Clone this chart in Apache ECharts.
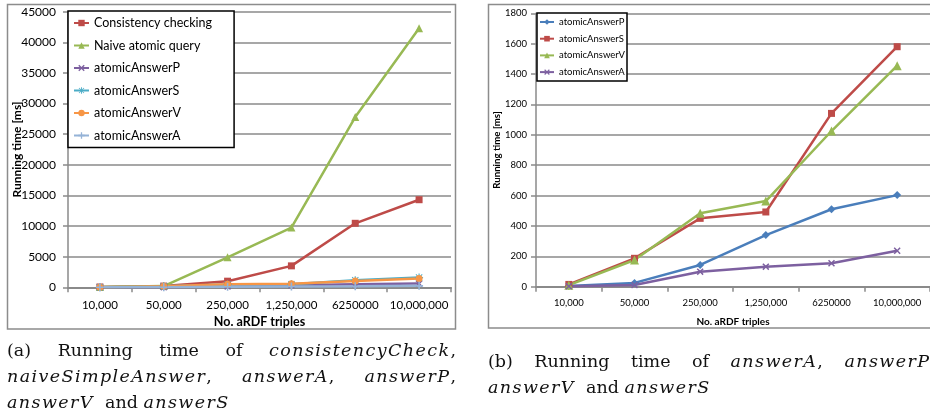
<!DOCTYPE html>
<html>
<head>
<meta charset="utf-8">
<script src="https://cdn.jsdelivr.net/npm/echarts@6/dist/echarts.min.js"></script>
<style>
html,body{margin:0;padding:0;background:#fff;}
#wrap{position:relative;width:930px;height:416px;overflow:hidden;}
#chart{position:absolute;left:0;top:0;width:930px;height:416px;}
.cap{position:absolute;font-family:"DejaVu Serif",serif;font-size:17.5px;line-height:26px;color:#111;white-space:nowrap;}
.jl{display:flex;justify-content:space-between;}
.cap i{letter-spacing:1.4px;}
</style>
</head>
<body>
<div id="wrap">
<div id="chart"></div>
<div class="cap" style="left:7px;top:337px;width:449px;">
  <div class="jl"><span>(a)</span><span>Running</span><span>time</span><span>of</span><span><i>consistencyCheck</i>,</span></div>
  <div class="jl"><span><i>naiveSimpleAnswer</i>,</span><span><i>answerA</i>,</span><span><i>answerP</i>,</span></div>
  <div><i>answerV</i>&nbsp; and <i>answerS</i></div>
</div>
<div class="cap" style="left:488px;top:348px;width:448px;">
  <div class="jl"><span>(b)</span><span>Running</span><span>time</span><span>of</span><span><i>answerA</i>,</span><span><i>answerP</i>,</span></div>
  <div><i>answerV</i>&nbsp; and <i>answerS</i></div>
</div>
</div>
<script>
// ---- data ----
var categories = ['10,000', '50,000', '250,000', '1,250,000', '6250000', '10,000,000'];
var consistencyChecking = [50, 200, 1000, 3500, 10450, 14300];
var naiveAtomicQuery = [50, 200, 4900, 9750, 27800, 42300];
var atomicAnswerP = [5, 25, 143, 340, 510, 603];
var atomicAnswerS = [15, 187, 450, 492, 1141, 1580];
var atomicAnswerV = [10, 176, 483, 564, 1025, 1455];
var atomicAnswerA = [3, 11, 99, 132, 154, 237];
var yTicksA = [0, 5000, 10000, 15000, 20000, 25000, 30000, 35000, 40000, 45000];
var yTicksB = [0, 200, 400, 600, 800, 1000, 1200, 1400, 1600, 1800];

var FONT = 'Lato';
var GRID_C = '#8a8a8a';
var SYM_X = 'path://M0,1.5L1.5,0L5,3.5L8.5,0L10,1.5L6.5,5L10,8.5L8.5,10L5,6.5L1.5,10L0,8.5L3.5,5Z';
var SYM_PLUS = 'path://M4,0H6V4H10V6H6V10H4V6H0V4H4Z';
var SYM_AST = 'path://M4.3,0H5.7V3.3L8.5,0.6L9.4,1.5L6.3,4.3H10V5.7H6.3L9.4,8.5L8.5,9.4L5.7,6.7V10H4.3V6.7L1.5,9.4L0.6,8.5L3.7,5.7H0V4.3H3.7L0.6,1.5L1.5,0.6L4.3,3.3Z';

function mkSeries(name, data, color, symbol, size, xi, lw) {
  return {
    type: 'line', name: name, data: data, xAxisIndex: xi, yAxisIndex: xi,
    symbol: symbol, symbolSize: size, showAllSymbol: true,
    lineStyle: {color: color, width: lw},
    itemStyle: {color: color},
    z: 3
  };
}

function yAxis(gi, ticks, fs, margin, nameFs, nameGap) {
  return {
    gridIndex: gi, type: 'value', min: ticks[0], max: ticks[ticks.length - 1], interval: ticks[1] - ticks[0],
    name: 'Running time [ms]', nameLocation: 'middle', nameGap: nameGap, nameMoveOverlap: false,
    nameTextStyle: {fontFamily: FONT, fontWeight: 'bold', fontSize: nameFs, color: '#000'},
    axisLine: {show: true, lineStyle: {color: GRID_C, width: 1.5}},
    axisTick: {show: true, length: 5, lineStyle: {color: GRID_C, width: 1.5}},
    axisLabel: {fontFamily: FONT, fontSize: fs, color: '#000', margin: margin, formatter: function (v) { return String(v); }},
    splitLine: {show: true, lineStyle: {color: GRID_C, width: 1.5}}
  };
}
function xAxis(gi, fs, margin, nameFs, nameGap) {
  return {
    gridIndex: gi, type: 'category', data: categories, boundaryGap: true,
    name: 'No. aRDF triples', nameLocation: 'middle', nameGap: nameGap, nameMoveOverlap: false,
    nameTextStyle: {fontFamily: FONT, fontWeight: 'bold', fontSize: nameFs, color: '#000'},
    axisLine: {show: true, lineStyle: {color: GRID_C, width: 2}},
    axisTick: {show: true, length: 5, alignWithLabel: false, lineStyle: {color: GRID_C, width: 1.5}},
    axisLabel: {fontFamily: FONT, fontSize: fs, color: '#000', margin: margin, interval: 0},
    splitLine: {show: false}
  };
}

var chart = echarts.init(document.getElementById('chart'), null, {renderer: 'canvas'});
chart.setOption({
  animation: false,
  backgroundColor: '#fff',
  grid: [
    {left: 68, top: 11.7, width: 383, height: 275.6},
    {left: 536, top: 13.3, width: 400, height: 273.4}
  ],
  xAxis: [xAxis(0, 11.5, 12, 12.5, 28), xAxis(1, 9.5, 11, 10, 30)],
  yAxis: [yAxis(0, yTicksA, 12, 12, 12, 45), yAxis(1, yTicksB, 9.5, 9, 9.7, 34)],
  legend: [
    {
      orient: 'vertical', left: 68, top: 11,
      data: ['Consistency checking', 'Naive atomic query', 'atomicAnswerP', 'atomicAnswerS', 'atomicAnswerV', 'atomicAnswerA'],
      backgroundColor: '#fff', borderColor: '#000', borderWidth: 1.5,
      padding: [5, 22, 5, 5], itemWidth: 15, itemHeight: 8, itemGap: 8.5, selectedMode: false,
      textStyle: {fontFamily: FONT, fontSize: 12.5, color: '#000', lineHeight: 14},
      z: 10
    },
    {
      orient: 'vertical', left: 537, top: 13,
      data: ['b-atomicAnswerP', 'b-atomicAnswerS', 'b-atomicAnswerV', 'b-atomicAnswerA'],
      formatter: function (n) { return n.replace('b-', ''); },
      backgroundColor: '#fff', borderColor: '#000', borderWidth: 1.5,
      padding: [3, 2, 3, 2], itemWidth: 14, itemHeight: 7, itemGap: 4.7, selectedMode: false,
      textStyle: {fontFamily: FONT, fontSize: 9.5, color: '#000', lineHeight: 12},
      z: 10
    }
  ],
  graphic: [
    {type: 'rect', shape: {x: 7.5, y: 4.5, width: 448, height: 324.5}, style: {fill: 'none', stroke: '#8c8c8c', lineWidth: 1.5}, z: 0, silent: true},
    {type: 'rect', shape: {x: 488.5, y: 4.5, width: 460, height: 323.5}, style: {fill: 'none', stroke: '#8c8c8c', lineWidth: 1.5}, z: 0, silent: true}
  ],
  series: [
    mkSeries('Consistency checking', consistencyChecking, '#be4b48', 'rect', 7, 0, 2.5),
    mkSeries('Naive atomic query', naiveAtomicQuery, '#98b954', 'triangle', 8, 0, 2.5),
    mkSeries('atomicAnswerP', atomicAnswerP, '#7d60a0', SYM_X, 7, 0, 2.5),
    mkSeries('atomicAnswerS', atomicAnswerS, '#4bacc6', SYM_AST, 8, 0, 2.5),
    mkSeries('atomicAnswerV', atomicAnswerV, '#f79646', 'circle', 7, 0, 2.5),
    mkSeries('atomicAnswerA', atomicAnswerA, '#95b3d7', SYM_PLUS, 8, 0, 2.5),
    mkSeries('b-atomicAnswerP', atomicAnswerP, '#4a7ebb', 'diamond', 8, 1, 2.5),
    mkSeries('b-atomicAnswerS', atomicAnswerS, '#be4b48', 'rect', 7, 1, 2.5),
    mkSeries('b-atomicAnswerV', atomicAnswerV, '#98b954', 'triangle', 9, 1, 2.5),
    mkSeries('b-atomicAnswerA', atomicAnswerA, '#7d60a0', SYM_X, 7, 1, 2.5)
  ]
});
</script>
</body>
</html>
